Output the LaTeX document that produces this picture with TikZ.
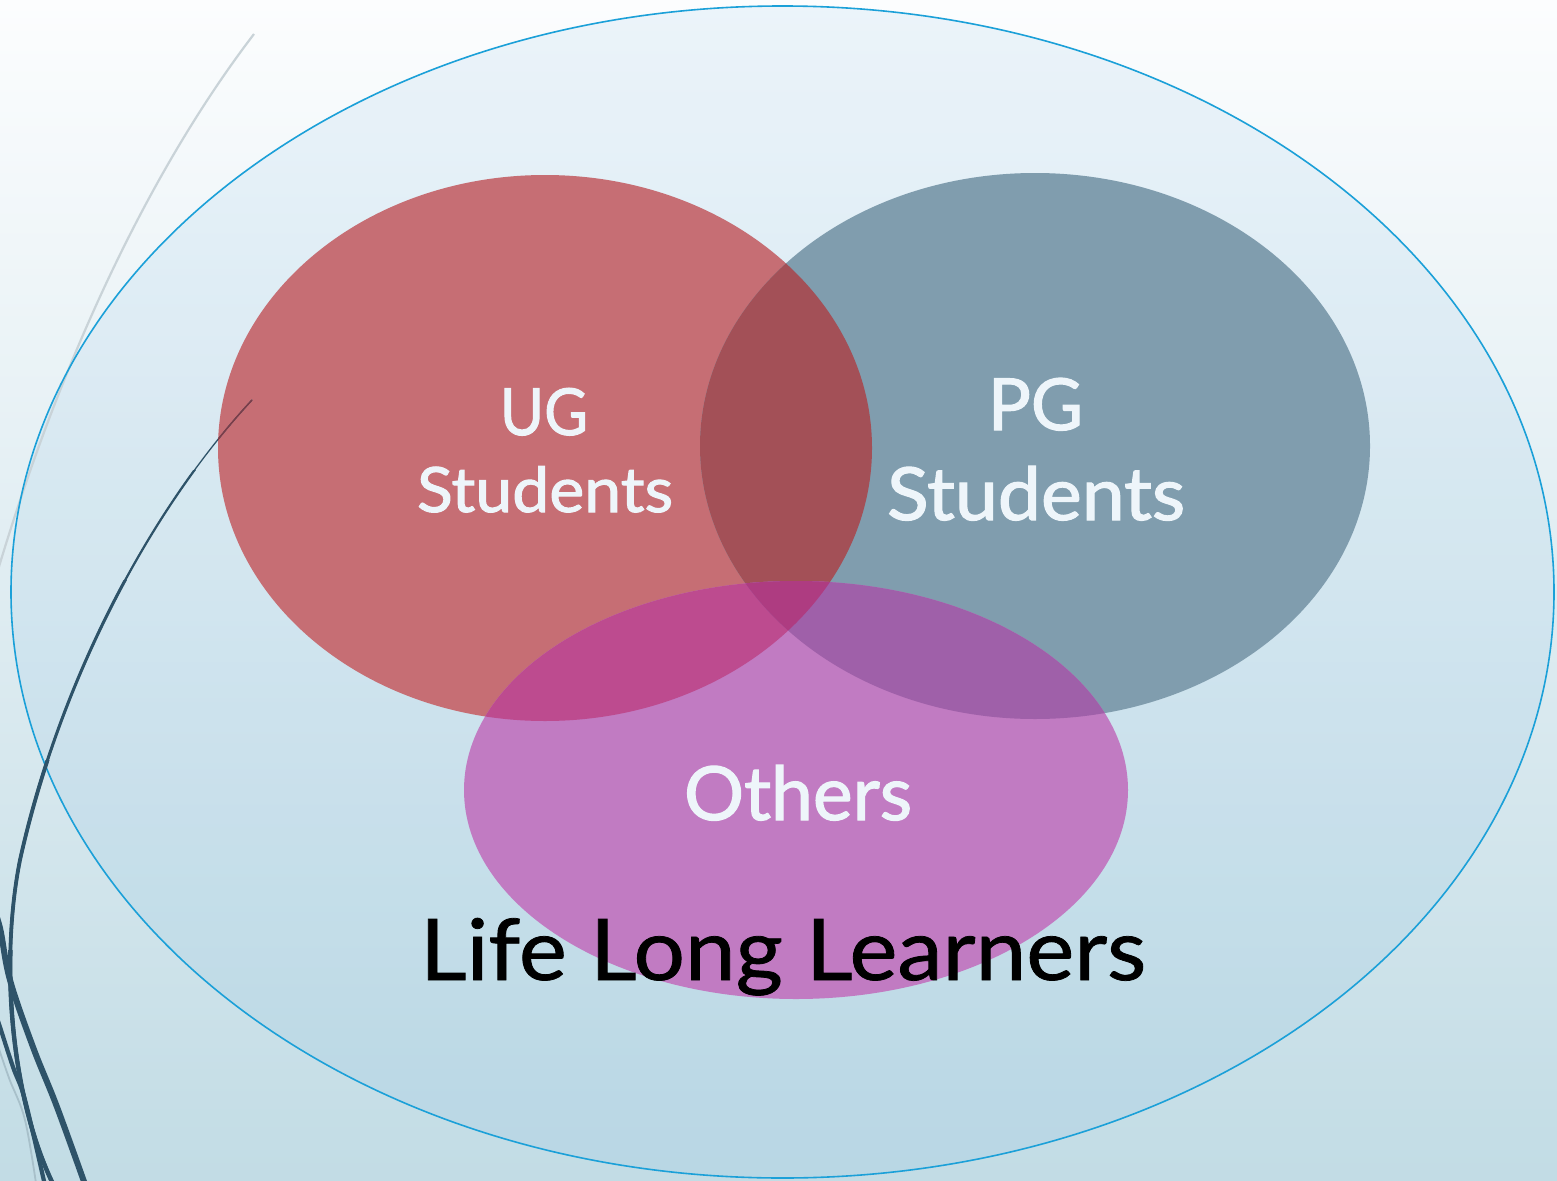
\documentclass[tikz,border=0pt]{standalone}
\usepackage{fontspec}
\usepackage{graphicx}
\setmainfont{Lato}
\newfontfamily\labelfont{Lato}[FakeBold=1.6]
\newfontfamily\bigfont{Lato}[FakeBold=0.9]
\usetikzlibrary{shapes.geometric}
\definecolor{bgtop}{HTML}{FCFDFE}
\definecolor{bgbot}{HTML}{C2DCE5}
\definecolor{outer}{HTML}{1BA0D8}
\definecolor{tint}{HTML}{63ABDE}
\definecolor{ugc}{HTML}{C66E74}
\definecolor{pgc}{HTML}{809DAE}
\definecolor{otc}{HTML}{C17BC2}
\definecolor{ugpg}{HTML}{A35057}
\definecolor{ugot}{HTML}{BD4B8F}
\definecolor{pgot}{HTML}{9F60A9}
\definecolor{allc}{HTML}{AE3C81}
\definecolor{steel}{HTML}{2E5369}
\definecolor{greyline}{HTML}{C9D3D8}
\definecolor{shadowline}{HTML}{A8C0CA}
\definecolor{tipc}{HTML}{7E3C47}
\definecolor{labelc}{HTML}{EEF5FA}
\tikzset{
  label/.style={anchor=base west, inner sep=0pt, outer sep=0pt, text=labelc, font=\labelfont},
  biglabel/.style={anchor=base west, inner sep=0pt, outer sep=0pt, text=black, font=\bigfont},
  swirl/.style={draw=steel, line cap=round, line join=round},
}
\newcommand{\ugpath}{(545,448) ellipse [x radius=327pt, y radius=273pt]}
\newcommand{\pgpath}{(1035,446) ellipse [x radius=335pt, y radius=273pt]}
\newcommand{\otpath}{(796,790) ellipse [x radius=332pt, y radius=209pt]}
\newcommand{\swirlpath}{(252,400) .. controls (150,510) and (60,680) .. (20,860) .. controls (0,960) and (10,1100) .. (56,1190)}
\begin{document}
\begin{tikzpicture}[x=1pt,y=-1pt]
\useasboundingbox (0,0) rectangle (1557,1180);
\clip (0,0) rectangle (1557,1180);
% background
\shade[top color=bgtop, bottom color=bgbot] (0,0) rectangle (1557,1180);
% outer ellipse tint
\fill[tint, opacity=0.1] (782.5,592) ellipse [x radius=771.5pt, y radius=586pt];
% grey decorative line
\draw[greyline, line width=2.2pt] (254,34) .. controls (150,170) and (60,360) .. (-5,580);
% outer ellipse stroke
\draw[outer, line width=1.6pt] (782.5,592) ellipse [x radius=771.5pt, y radius=586pt];
% Venn
\fill[ugc] \ugpath;
\fill[pgc] \pgpath;
\begin{scope}
  \clip \ugpath;
  \fill[ugpg] \pgpath;
\end{scope}
\fill[otc] \otpath;
\begin{scope}
  \clip \otpath;
  \fill[ugot] \ugpath;
  \fill[pgot] \pgpath;
  \clip \ugpath;
  \fill[allc] \pgpath;
\end{scope}
% dark swirl curve, tapering towards its top end
\draw[swirl, line width=1.3pt] \swirlpath;
\begin{scope}
  \clip \ugpath;
  \draw[tipc, line width=1.3pt] \swirlpath;
\end{scope}
\begin{scope}
  \clip (0,470) rectangle (200,1180);
  \draw[swirl, line width=2.2pt] \swirlpath;
\end{scope}
\begin{scope}
  \clip (0,580) rectangle (200,1180);
  \draw[swirl, line width=3pt] \swirlpath;
\end{scope}
\begin{scope}
  \clip (0,760) rectangle (200,1180);
  \draw[swirl, line width=3.8pt] \swirlpath;
\end{scope}
\begin{scope}
  \clip (0,950) rectangle (200,1180);
  \draw[swirl, line width=4.4pt] \swirlpath;
\end{scope}
\draw[shadowline, line width=1.8pt] plot[smooth, tension=0.6] coordinates {(-4,1040) (9,1078) (25,1120) (37,1190)};
\draw[swirl, line width=4.2pt] plot[smooth, tension=0.6] coordinates {(-5,1012) (0,1027) (13,1067) (23,1093) (33,1133) (46,1190)};
\draw[swirl, line width=6pt] plot[smooth, tension=0.6] coordinates {(-8,905) (0,928) (10,980) (33,1047) (57,1107) (87,1190)};
% labels
\node[label] (ug) at (500,435) {\resizebox{88pt}{47pt}{UG}};
\node[label] (ugs) at (417,512) {\resizebox{256pt}{46pt}{Students}};
\node[label] (pg) at (988,430) {\resizebox{95pt}{52pt}{PG}};
\node[label] (pgs) at (887,520) {\resizebox{298pt}{54pt}{Students}};
\node[label] (ot) at (684,820) {\resizebox{228pt}{55pt}{Others}};
\node[biglabel] (lll) at (420,980) {\resizebox{726pt}{62pt}{Life Long Learners}};
\end{tikzpicture}
\end{document}
